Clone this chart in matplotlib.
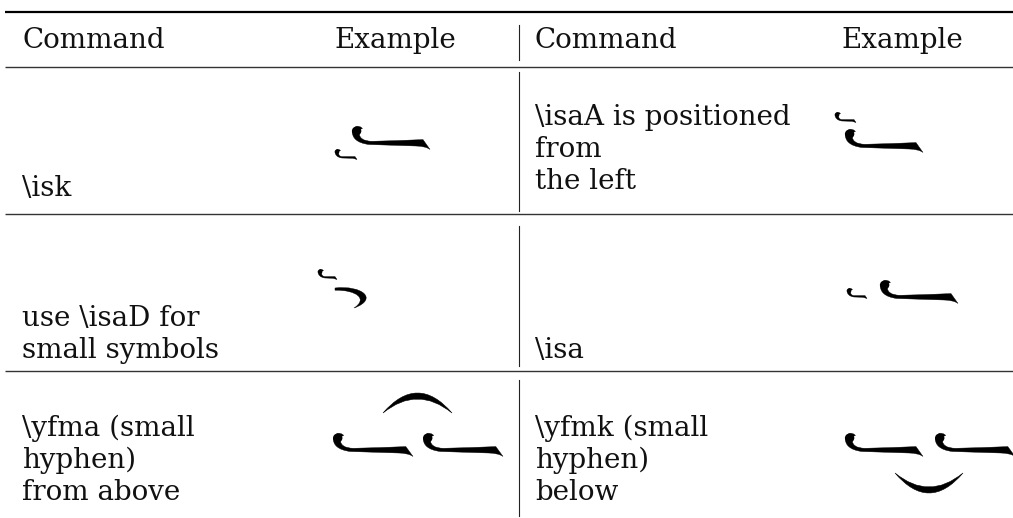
import matplotlib
matplotlib.use("Agg")
import matplotlib.pyplot as plt
from matplotlib.path import Path
from matplotlib.patches import PathPatch, Ellipse

# ---------------- content ----------------
header = ["Command", "Example", "Command", "Example"]
left_cells = [["\\isk"],
              ["use \\isaD for", "small symbols"],
              ["\\yfma (small", "hyphen)", "from above"]]
right_cells = [["\\isaA is positioned", "from", "the left"],
               ["\\isa"],
               ["\\yfmk (small", "hyphen)", "below"]]

# ---------------- layout (pixels, y down) ----------------
W, H = 1013, 518
fig = plt.figure(figsize=(W / 100, H / 100), dpi=100)
ax = fig.add_axes([0, 0, 1, 1])
ax.set_xlim(0, W)
ax.set_ylim(H, 0)
ax.axis("off")

FONT = dict(family="DejaVu Serif", fontsize=20, color="#111111")
LINE = 32
XL, XR = 22, 535

# rules
ax.plot([5, W], [12, 12], color="black", lw=1.6, solid_capstyle="butt")
ax.plot([5, W], [67, 67], color="#333333", lw=1.0, solid_capstyle="butt")
ax.plot([5, W], [214, 214], color="#333333", lw=1.0, solid_capstyle="butt")
ax.plot([5, W], [371, 371], color="#333333", lw=1.0, solid_capstyle="butt")
for y0, y1 in [(25, 60), (72, 211), (226, 366), (380, 516)]:
    ax.plot([519, 519], [y0, y1], color="#222222", lw=0.8)

# header
hb = 48
ax.text(XL, hb, header[0], ha="left", va="baseline", **FONT)
ax.text(456, hb, header[1], ha="right", va="baseline", **FONT)
ax.text(XR, hb, header[2], ha="left", va="baseline", **FONT)
ax.text(963, hb, header[3], ha="right", va="baseline", **FONT)

# cell text: first baseline per row
left_base = [196, 326, 436]
right_base = [125, 358, 436]
for lines, b in zip(left_cells, left_base):
    for i, s in enumerate(lines):
        ax.text(XL, b + i * LINE, s, ha="left", va="baseline", **FONT)
for lines, b in zip(right_cells, right_base):
    for i, s in enumerate(lines):
        ax.text(XR, b + i * LINE, s, ha="left", va="baseline", **FONT)


# ---------------- glyph drawing helpers ----------------
def add_path(verts, codes, lw=0.3):
    ax.add_patch(PathPatch(Path(verts, codes), fc="black", ec="black", lw=lw))


def hook(x0, y0, w):
    """kashida-like stroke: blob at top-left, curve down, long tapering stroke."""
    sx = w / 78.0
    P = lambda dx, dy: (x0 + dx * sx, y0 + dy)
    verts = [
        P(0.3, 5),
        P(0.0, 12), P(5, 17), P(17, 18.5),
        P(64, 20),
        P(70, 20.3), P(75, 21), P(78, 23.5),
        P(71, 13.6),
        P(45, 14.6),
        P(20, 15.3),
        P(11, 15), P(7.5, 12), P(7.2, 7.5),
        P(0.3, 5),
    ]
    codes = [Path.MOVETO,
             Path.CURVE4, Path.CURVE4, Path.CURVE4,
             Path.LINETO,
             Path.CURVE4, Path.CURVE4, Path.CURVE4,
             Path.LINETO, Path.LINETO, Path.LINETO,
             Path.CURVE4, Path.CURVE4, Path.CURVE4,
             Path.CLOSEPOLY]
    add_path(verts, codes)
    ax.add_patch(Ellipse(P(4.6, 5.0), 9.4, 9.0, fc="black", ec="none"))
    fv = [P(3.5, 0.6), P(8, -0.6), P(10.5, 2.5), P(8.0, 3.5), P(3.5, 0.6)]
    add_path(fv, [Path.MOVETO, Path.CURVE3, Path.CURVE3, Path.LINETO, Path.CLOSEPOLY], lw=0.2)


def small_hook(x0, y0, w):
    """small version: little blob, short curve, thin tail."""
    verts = [
        (x0, y0 + 2.5),
        (x0, y0 + 6), (x0 + 2.5, y0 + 8.5), (x0 + 7, y0 + 9),
        (x0 + w - 4, y0 + 9.3),
        (x0 + w, y0 + 10.5),
        (x0 + w - 2, y0 + 7.6),
        (x0 + 7, y0 + 7.6),
        (x0 + 4.5, y0 + 7.4), (x0 + 3.6, y0 + 6), (x0 + 3.6, y0 + 4),
        (x0, y0 + 2.5),
    ]
    codes = [Path.MOVETO, Path.CURVE4, Path.CURVE4, Path.CURVE4,
             Path.LINETO, Path.LINETO, Path.LINETO, Path.LINETO,
             Path.CURVE4, Path.CURVE4, Path.CURVE4, Path.CLOSEPOLY]
    add_path(verts, codes)
    ax.add_patch(Ellipse((x0 + 2.1, y0 + 2.6), 4.6, 4.4, fc="black", ec="none"))
    fv = [(x0 + 1.5, y0 + 0.4), (x0 + 4.5, y0 - 0.4), (x0 + 5.5, y0 + 1.8),
          (x0 + 3.6, y0 + 2.2), (x0 + 1.5, y0 + 0.4)]
    add_path(fv, [Path.MOVETO, Path.CURVE3, Path.CURVE3, Path.LINETO, Path.CLOSEPOLY], lw=0.2)


def crescent(x0, x1, y_end, y_outer, y_inner):
    """arc thick in the middle, thin at the ends; y_outer / y_inner = mid-point y."""
    xm = (x0 + x1) / 2
    co = 2 * y_outer - y_end
    ci = 2 * y_inner - y_end
    verts = [(x0, y_end), (xm, co), (x1, y_end), (xm, ci), (x0, y_end), (x0, y_end)]
    codes = [Path.MOVETO, Path.CURVE3, Path.CURVE3, Path.CURVE3, Path.CURVE3, Path.CLOSEPOLY]
    add_path(verts, codes, lw=0.4)


def curl(x0, y0):
    """hook curving down to the right (\\isaD)."""
    verts = [(x0, y0), (x0 + 27, y0 - 3), (x0 + 44, y0 + 11), (x0 + 19, y0 + 20),
             (x0 + 33, y0 + 11), (x0 + 22, y0 + 2), (x0, y0 + 2.2), (x0, y0)]
    codes = [Path.MOVETO, Path.CURVE4, Path.CURVE4, Path.CURVE4,
             Path.CURVE4, Path.CURVE4, Path.CURVE4, Path.CLOSEPOLY]
    add_path(verts, codes)


# main strokes (x0, y0, width)
main_hooks = [(352, 126, 78), (845, 129, 78), (880, 280, 78),
              (333, 433, 80), (423, 433, 80), (845, 433, 78), (935, 433, 80)]
for x0, y0, w in main_hooks:
    hook(x0, y0, w)

# small marks (x0, y0, width)
small_hooks = [(335, 149, 22), (835, 112, 21), (318, 269, 19), (847, 288, 20)]
for x0, y0, w in small_hooks:
    small_hook(x0, y0, w)

curl(335, 288)
crescent(383, 452, 413, 393, 399)
crescent(895, 963, 473, 493, 487)

fig.savefig("out.png", dpi=100)
